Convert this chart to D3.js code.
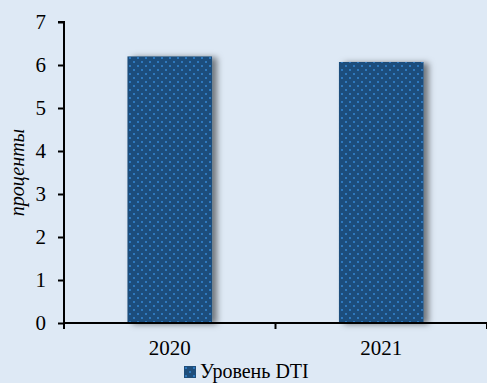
<!DOCTYPE html>
<html>
<head>
<meta charset="utf-8">
<script src="https://cdn.jsdelivr.net/npm/d3@7/dist/d3.min.js"></script>
<style>
  html, body { margin: 0; padding: 0; background: #dee9f5; }
  svg { display: block; }
</style>
</head>
<body>
<svg id="chart" width="487" height="383"></svg>
<script>
// Debt-to-income level by year
const years = ["2020", "2021"];
const dtiValues = [6.2, 6.07];
const yTicks = [0, 1, 2, 3, 4, 5, 6, 7];
const seriesName = "Уровень DTI";
const yTitle = "проценты";

const W = 487, H = 383;
const margin = { left: 64, right: 0, top: 22, bottom: 60 };
const serif = "'Liberation Serif', 'Times New Roman', serif";
const fs = 21;

const svg = d3.select("#chart");
const defs = svg.append("defs");

// dotted fill for bars
const pat = defs.append("pattern")
  .attr("id", "dots").attr("patternUnits", "userSpaceOnUse")
  .attr("width", 8).attr("height", 8);
pat.append("rect").attr("width", 8).attr("height", 8).attr("fill", "#1f4e7b");
pat.append("rect").attr("x", 1).attr("y", 1).attr("width", 2).attr("height", 2).attr("fill", "#2f78bd");
pat.append("rect").attr("x", 5).attr("y", 5).attr("width", 2).attr("height", 2).attr("fill", "#2f78bd");

const shadow = defs.append("filter").attr("id", "shadow")
  .attr("x", "-10%").attr("y", "-10%").attr("width", "130%").attr("height", "130%");
shadow.append("feDropShadow").attr("dx", 5).attr("dy", 1).attr("stdDeviation", 3)
  .attr("flood-color", "#000").attr("flood-opacity", 0.5);

const x = d3.scaleBand().domain(years)
  .range([margin.left, W - margin.right]).paddingInner(0.6).paddingOuter(0.3);
const y = d3.scaleLinear().domain([0, 7]).range([H - margin.bottom, margin.top]);

// bars
svg.append("g").selectAll("rect").data(years).join("rect")
  .attr("x", d => x(d))
  .attr("y", (d, i) => y(dtiValues[i]))
  .attr("width", x.bandwidth())
  .attr("height", (d, i) => y(0) - y(dtiValues[i]))
  .attr("fill", "url(#dots)")
  .attr("filter", "url(#shadow)");

// y axis
const yAxis = svg.append("g")
  .attr("transform", `translate(${margin.left},0)`)
  .call(d3.axisLeft(y).tickValues(yTicks).tickSize(6).tickPadding(12).tickFormat(d3.format("d")));
yAxis.attr("font-family", serif);
yAxis.select(".domain").attr("stroke", "#000").attr("stroke-width", 2).attr("d", `M-6,${y(7)}H0V${y(0)}`);
yAxis.selectAll(".tick line").attr("stroke", "#000").attr("stroke-width", 2);
yAxis.selectAll("text").attr("font-family", serif)
  .attr("font-size", fs).attr("fill", "#000");

// x axis with ticks on category boundaries
const xg = svg.append("g").attr("transform", `translate(0,${y(0)})`);
xg.append("line").attr("x1", margin.left).attr("x2", W).attr("stroke", "#000").attr("stroke-width", 2);
const step = (W - margin.left) / years.length;
const bounds = d3.range(years.length + 1).map(i => margin.left + i * step);
xg.selectAll("line.tk").data(bounds).join("line").attr("class", "tk")
  .attr("x1", d => d).attr("x2", d => d).attr("y1", 0).attr("y2", 6)
  .attr("stroke", "#000").attr("stroke-width", 2);
xg.selectAll("text").data(years).join("text")
  .attr("x", d => x(d) + x.bandwidth() / 2).attr("y", 32)
  .attr("text-anchor", "middle")
  .attr("font-family", serif)
  .attr("font-size", fs).attr("fill", "#000")
  .text(d => d);

// y axis title
svg.append("text")
  .attr("transform", `translate(24,${(y(0) + y(7)) / 2}) rotate(-90)`)
  .attr("text-anchor", "middle")
  .attr("font-family", serif)
  .attr("font-style", "italic").attr("font-size", 20).attr("fill", "#000")
  .text(yTitle);

// legend
const lg = svg.append("g").attr("transform", "translate(184,366)");
lg.append("rect").attr("width", 12).attr("height", 12).attr("fill", "url(#dots)");
lg.append("text").attr("x", 16).attr("y", 12)
  .attr("font-family", serif)
  .attr("font-size", 20).attr("fill", "#000")
  .text(seriesName);
</script>
</body>
</html>
